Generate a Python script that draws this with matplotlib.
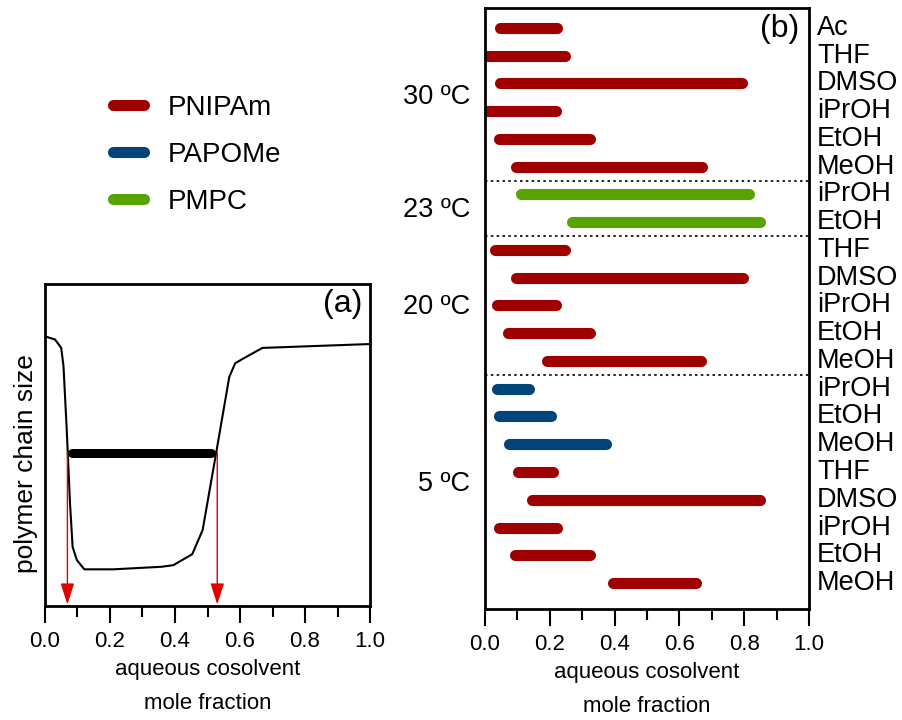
import matplotlib
matplotlib.use('Agg')
import matplotlib.pyplot as plt
from matplotlib.lines import Line2D
from matplotlib.ticker import MultipleLocator

plt.rcParams['font.family'] = ['Liberation Sans', 'DejaVu Sans']
NARROW = ['Liberation Sans Narrow', 'Liberation Sans', 'DejaVu Sans']

# panel (a): schematic chain size vs cosolvent fraction
curve_x = [0.000, 0.031, 0.050, 0.057, 0.067, 0.077, 0.085, 0.098, 0.121, 0.210,
           0.359, 0.395, 0.453, 0.485, 0.528, 0.567, 0.585, 0.610, 0.669, 1.000]
curve_y = [0.838, 0.828, 0.802, 0.745, 0.547, 0.320, 0.184, 0.143, 0.114, 0.114,
           0.122, 0.127, 0.161, 0.236, 0.484, 0.712, 0.754, 0.769, 0.802, 0.814]
window_x = [0.082, 0.512]
window_y = 0.477
arrow_x = [0.069, 0.530]

# panel (b): co-nonsolvency windows
solvents = ['Ac', 'THF', 'DMSO', 'iPrOH', 'EtOH', 'MeOH',
            'iPrOH', 'EtOH',
            'THF', 'DMSO', 'iPrOH', 'EtOH', 'MeOH',
            'iPrOH', 'EtOH', 'MeOH',
            'THF', 'DMSO', 'iPrOH', 'EtOH', 'MeOH']
polymer = ['PNIPAm'] * 6 + ['PMPC'] * 2 + ['PNIPAm'] * 5 + ['PAPOMe'] * 3 + ['PNIPAm'] * 5
x_start = [0.048, 0.000, 0.046, 0.000, 0.043, 0.097,
           0.111, 0.269,
           0.032, 0.096, 0.038, 0.071, 0.193,
           0.036, 0.045, 0.073,
           0.101, 0.145, 0.045, 0.094, 0.395]
x_end = [0.222, 0.248, 0.794, 0.218, 0.324, 0.669,
         0.815, 0.850,
         0.247, 0.796, 0.220, 0.323, 0.668,
         0.137, 0.204, 0.375,
         0.211, 0.850, 0.221, 0.324, 0.651]
temps = ['30 ºC', '23 ºC', '20 ºC', '5 ºC']
temp_rows = [2.5, 6.55, 10.05, 16.45]
separators = [5.5, 7.5, 12.5]
ticks = [0.0, 0.2, 0.4, 0.6, 0.8, 1.0]

colors = {'PNIPAm': '#9e0000', 'PAPOMe': '#00457a', 'PMPC': '#57a400'}

fig = plt.figure(figsize=(9.03, 7.2), dpi=100)
ax_a = fig.add_axes([0.0498, 0.1583, 0.360, 0.447])
ax_b = fig.add_axes([0.537, 0.154, 0.3588, 0.835])

for ax in (ax_a, ax_b):
    for sp in ax.spines.values():
        sp.set_linewidth(2)
    ax.set_xlim(0, 1)
    ax.set_xticks(ticks)
    ax.set_xticklabels(['%.1f' % t for t in ticks], family=NARROW, fontsize=16)
    ax.xaxis.set_minor_locator(MultipleLocator(0.1))
    ax.tick_params(axis='x', which='major', direction='out', length=12, width=1.5, pad=6)
    ax.tick_params(axis='x', which='minor', direction='out', length=8, width=1.5)
    ax.tick_params(axis='y', left=False, labelleft=False)
    ax.set_xlabel('aqueous cosolvent\nmole fraction', family=NARROW, fontsize=16,
                  linespacing=1.8, labelpad=5)

# (a)
ax_a.set_ylim(0, 1)
ax_a.plot(curve_x, curve_y, color='black', lw=1.5)
ax_a.plot(window_x, [window_y, window_y], color='black', lw=6.5, solid_capstyle='round')
for xa in arrow_x:
    ax_a.annotate('', xy=(xa, 0.005), xytext=(xa, window_y),
                  arrowprops=dict(arrowstyle='-|>,head_length=1.3,head_width=0.42',
                                  color='#e00000', lw=1, shrinkA=0, shrinkB=0))
ax_a.set_ylabel('polymer chain size', fontsize=19)
ax_a.yaxis.set_label_coords(-0.022, 0.444)
ax_a.text(0.975, 0.985, '(a)', transform=ax_a.transAxes, ha='right', va='top', fontsize=23)

# (b)
n = len(solvents)
for i in range(n):
    ax_b.plot([x_start[i], x_end[i]], [i, i], color=colors[polymer[i]], lw=8,
              solid_capstyle='round')
    ax_b.text(1.025, i, solvents[i], transform=ax_b.get_yaxis_transform(),
              ha='left', va='center', fontsize=19.5)
for s in separators:
    ax_b.axhline(s, color='black', lw=1.2, ls=(0, (1.5, 2)))
for t, r in zip(temps, temp_rows):
    ax_b.text(-0.045, r, t, transform=ax_b.get_yaxis_transform(),
              ha='right', va='center', fontsize=19.5)
ax_b.set_ylim(20.94, -0.72)
ax_b.text(0.97, 0.99, '(b)', transform=ax_b.transAxes, ha='right', va='top', fontsize=23)

handles = [Line2D([0], [0], color=colors[k], lw=8, solid_capstyle='round')
           for k in ['PNIPAm', 'PAPOMe', 'PMPC']]
fig.legend(handles, ['PNIPAm', 'PAPOMe', 'PMPC'], loc='upper left',
           bbox_to_anchor=(0.098, 0.903), frameon=False, fontsize=20,
           handlelength=1.1, handletextpad=0.85, labelspacing=0.75)

fig.savefig('out.png', dpi=100)
